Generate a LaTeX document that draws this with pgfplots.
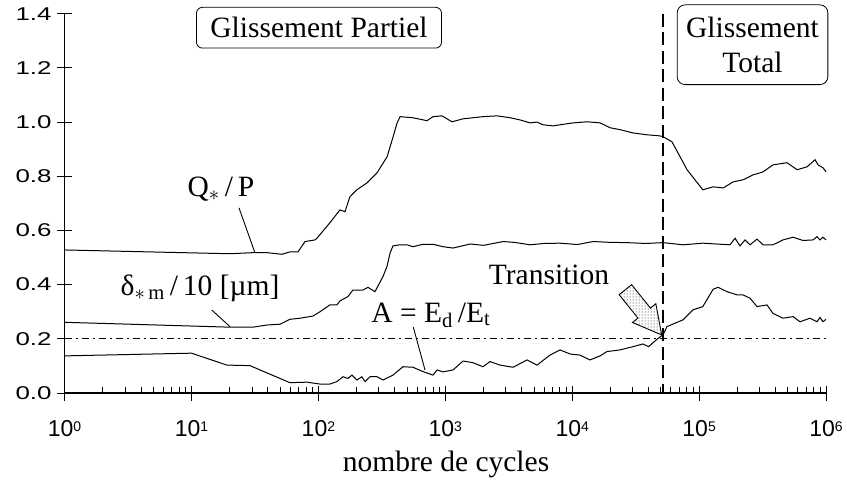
\documentclass[border=0pt]{standalone}
\usepackage{fontspec}
\setmainfont{Liberation Serif}
\newfontfamily\ytickfont[FakeStretch=1.4]{Liberation Sans}
\newfontfamily\xtickfont{Liberation Sans}
\usepackage{pgfplots}
\usepackage{pgfplotstable}
\pgfplotsset{compat=1.18}
\usetikzlibrary{patterns}
\newcommand\lab{\fontsize{29.5}{35}\selectfont}
\newcommand\pw[1]{10\raisebox{5.7pt}{\fontsize{14}{14}\selectfont #1}}

\pgfplotstableread{
x y
1 0.528
20.1 0.514
30.5 0.518
39.4 0.518
51.6 0.512
59.7 0.521
69.1 0.521
78.4 0.559
94 0.565
97.7 0.572
123 0.628
148 0.676
162 0.669
177 0.724
201 0.75
242 0.776
290 0.813
348 0.872
388 0.946
417 0.997
440 1.02
556 1.016
718 1.005
800 1.02
942 1.023
1130 1.001
1380 1.012
1980 1.02
2560 1.023
3240 1.016
3880 1.008
4650 0.997
5280 1.0
5890 0.99
7060 0.986
8020 0.99
10150 0.997
13100 1.001
16600 0.997
19900 0.979
23800 0.972
30100 0.96
38900 0.953
49200 0.949
52000 0.946
61200 0.927
80400 0.824
107000 0.75
129000 0.761
155000 0.757
185000 0.779
222000 0.787
266000 0.805
319000 0.816
382000 0.842
493000 0.85
592000 0.824
710000 0.835
820000 0.861
867000 0.842
949000 0.831
1000000 0.816
}\qdata

\pgfplotstableread{
x y
1 0.261
20.1 0.243
30.5 0.243
39.4 0.251
49.9 0.254
59.7 0.272
71.6 0.276
90.6 0.284
103 0.300
123 0.325
140 0.325
148 0.340
171 0.356
187 0.380
224 0.380
246 0.390
279 0.374
323 0.430
347 0.467
367 0.516
387 0.543
440 0.547
499 0.547
556 0.540
667 0.549
800 0.549
959 0.540
1150 0.535
1570 0.550
2000 0.545
2850 0.559
3500 0.556
4650 0.547
6000 0.552
8020 0.553
11000 0.548
14600 0.559
20000 0.556
27000 0.555
38000 0.552
52000 0.555
74600 0.547
107000 0.553
175000 0.547
192000 0.571
210000 0.543
230000 0.565
252000 0.547
286000 0.568
319000 0.547
382000 0.547
458000 0.565
550000 0.575
659000 0.563
791000 0.565
850000 0.577
897000 0.565
946000 0.575
1000000 0.565
}\ddata

\pgfplotstableread{
x y
1 0.137
10 0.147
19 0.103
28.9 0.101
59.7 0.038
81.3 0.040
103 0.033
123 0.033
140 0.042
156 0.060
171 0.054
184 0.066
201 0.048
220 0.060
233 0.042
255 0.060
290 0.060
323 0.048
387 0.066
464 0.097
556 0.095
667 0.079
759 0.070
800 0.066
861 0.085
959 0.078
1150 0.085
1380 0.118
1650 0.112
1980 0.097
2250 0.116
2700 0.103
3420 0.095
4410 0.122
5280 0.103
6690 0.140
8020 0.159
9620 0.144
11500 0.140
13800 0.122
16600 0.137
18800 0.153
23800 0.159
30100 0.171
36100 0.181
40000 0.171
47000 0.200
52000 0.215
55800 0.245
74600 0.270
89500 0.307
107000 0.319
129000 0.383
141000 0.390
166000 0.374
199000 0.362
222000 0.362
252000 0.350
286000 0.319
343000 0.325
382000 0.294
458000 0.276
550000 0.282
624000 0.263
748000 0.276
850000 0.263
897000 0.279
946000 0.263
1000000 0.272
}\adata

\begin{document}
\begin{tikzpicture}
\begin{axis}[
  scale only axis, width=761.4pt, height=379.3pt,
  xmode=log, xmin=1, xmax=1e6, ymin=0, ymax=1.4,
  axis x line=bottom, axis y line=left,
  axis line style={-, line width=1.2pt},
  clip=false,
  xtick={1,10,100,1000,10000,100000,1000000},
  xticklabels={\pw{0},\pw{1},\pw{2},\pw{3},\pw{4},\pw{5},\pw{6}},
  ytick={0,0.2,0.4,0.6,0.8,1.0,1.2,1.4},
  yticklabels={0.0,0.2,0.4,0.6,0.8,1.0,1.2,1.4},
  tick align=center, major tick length=15pt, minor tick length=6pt,
  minor x tick style={yshift=3pt},
  tick style={black, line width=1pt},
  xticklabel style={font=\xtickfont\fontsize{23}{24}\selectfont, anchor=base, yshift=-36.2pt},
  yticklabel style={font=\ytickfont\fontsize{18.5}{20}\selectfont, xshift=-2pt},
  xlabel={nombre de cycles},
  xlabel style={at={(axis description cs:0.501,-0.2075)}, anchor=base, font=\lab},
]
\addplot[black, line width=1pt, mark=none] table {\qdata};
\addplot[black, line width=1pt, mark=none] table {\ddata};
\addplot[black, line width=1pt, mark=none] table {\adata};

\draw[line width=1.1pt, dash pattern=on 7pt off 4pt on 2pt off 4pt] (axis cs:1,0.2) -- (axis cs:1000000,0.2);
\draw[line width=2.6pt, dash pattern=on 13pt off 5.5pt] (axis cs:52000,1.4) -- (axis cs:52000,0);

% leader lines
\draw[line width=0.9pt] (axis cs:23.67,0.6834) -- (axis cs:31.65,0.5172);
\draw[line width=0.9pt] (axis cs:14.43,0.3066) -- (axis cs:20.11,0.2449);
\draw[line width=0.9pt] (axis cs:560,0.2427) -- (axis cs:692,0.085);

% labels
\node[anchor=base, font=\lab] at (axis cs:17.08,0.724) {Q\textsubscript{$\ast$}\,/\,P};
\node[anchor=base, font=\lab] at (axis cs:11.67,0.3583) {δ\textsubscript{$\ast$\,m}\,/\,10 [µm]};
\node[anchor=base, font=\lab] at (axis cs:769,0.2612) {A = E\textsubscript{d}\,/E\textsubscript{t}};
\node[anchor=base, font=\lab] at (axis cs:6561,0.399) {Transition};

\node[draw, rounded corners=6pt, line width=0.8pt, fill=white, inner xsep=14pt, inner ysep=10pt, font=\lab] at (axis cs:101.1,1.3483) {Glissement Partiel};
\node[draw, rounded corners=8pt, line width=0.8pt, fill=white, inner xsep=9pt, inner ysep=12pt, align=center, font=\lab] at (axis cs:263600,1.2855) {Glissement\\Total};

\coordinate (tip) at (axis cs:50700,0.2143);
\end{axis}
% block arrow (annotation)
\draw[shift={(tip)}, rotate=128.7, line width=0.9pt, preaction={fill=white}, pattern=dots]
  (0,0) -- (28pt,15pt) -- (28pt,8pt) -- (58pt,8pt) -- (58pt,-8pt) -- (28pt,-8pt) -- (28pt,-15pt) -- cycle;
\pgfresetboundingbox
\path (-64.6pt,-87pt) rectangle (782.4pt,393pt);
\end{tikzpicture}
\end{document}
